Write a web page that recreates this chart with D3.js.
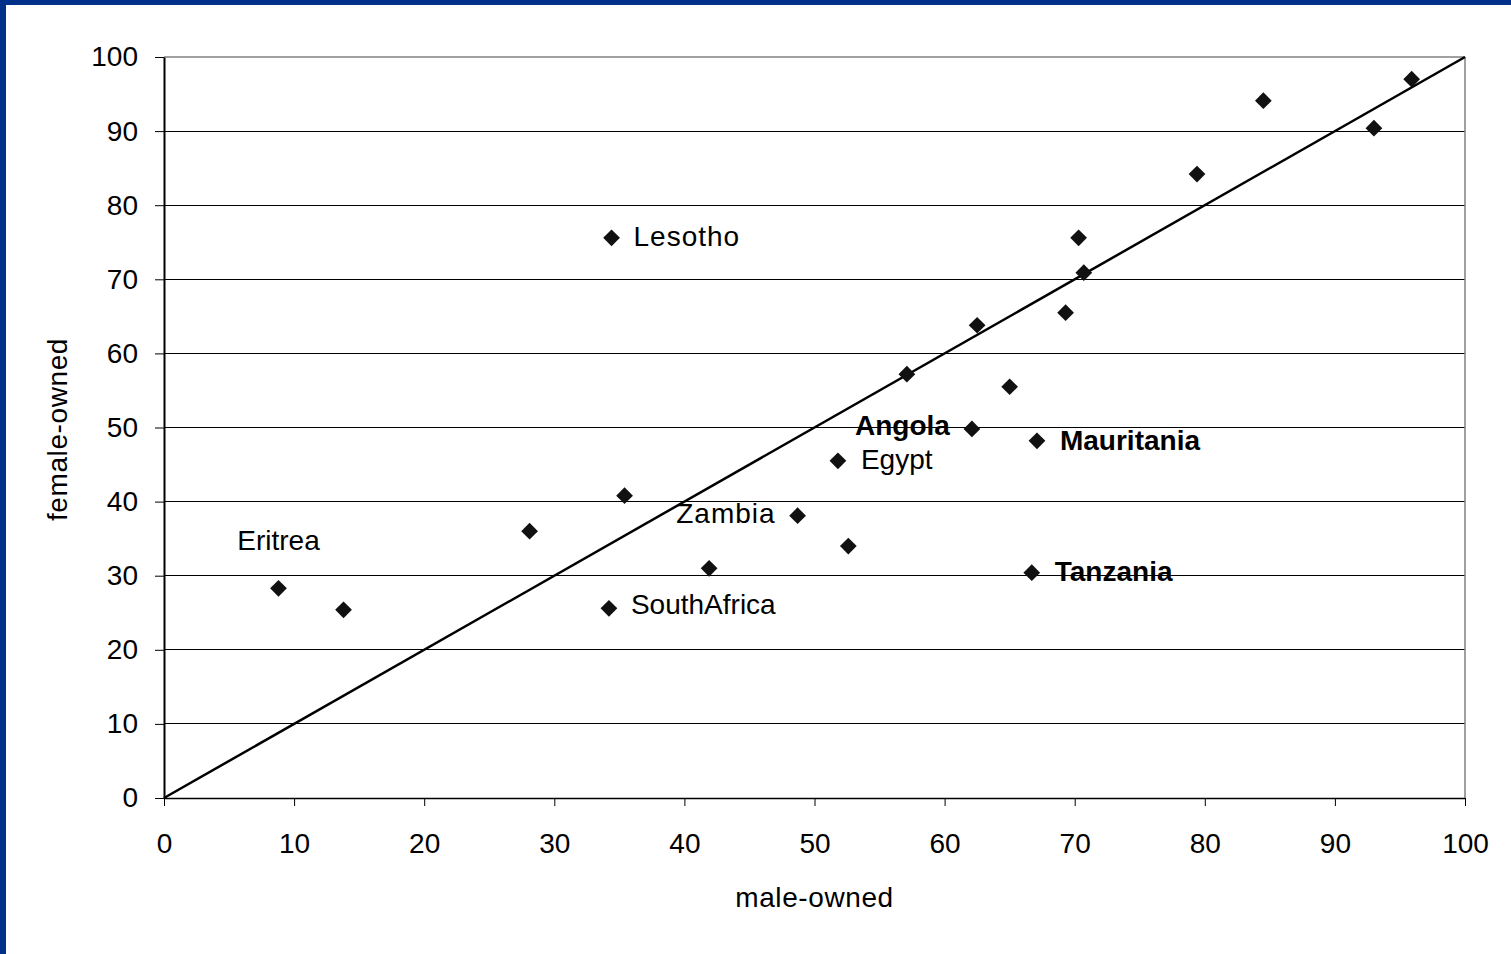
<!DOCTYPE html>
<html><head><meta charset="utf-8">
<script src="https://cdn.jsdelivr.net/npm/d3@7"></script>
<style>
html,body{margin:0;padding:0;background:#fff;}
svg{display:block;}
text{font-family:Arial,"Liberation Sans",sans-serif;fill:#000;}
</style></head>
<body><div id="chart"></div>
<script>
// Data (male-owned %, female-owned %)
const maleOwned   = [8.8, 13.8, 28.1, 34.4, 34.2, 35.4, 41.9, 48.7, 51.8, 52.6, 57.1, 62.1, 62.5, 65.0, 66.7, 67.1, 69.3, 70.3, 70.7, 79.4, 84.5, 93.0, 95.9];
const femaleOwned = [28.3, 25.4, 36.0, 75.6, 25.6, 40.8, 31.0, 38.1, 45.5, 34.0, 57.2, 49.8, 63.8, 55.5, 30.4, 48.2, 65.5, 75.6, 70.9, 84.2, 94.1, 90.4, 97.0];
const countryNames = ["Eritrea", "", "", "Lesotho", "SouthAfrica", "", "", "Zambia", "Egypt", "", "", "Angola", "", "", "Tanzania", "Mauritania", "", "", "", "", "", "", ""];
const boldNames = ["Angola", "Mauritania", "Tanzania"];
const tickValues = [0, 10, 20, 30, 40, 50, 60, 70, 80, 90, 100];
const xTitle = "male-owned";
const yTitle = "female-owned";

const W = 1511, H = 954;
const svg = d3.select("#chart").append("svg").attr("width", W).attr("height", H);

// frame
svg.append("rect").attr("x",0).attr("y",0).attr("width",W).attr("height",H).attr("fill","#fff");
svg.append("rect").attr("x",0).attr("y",0).attr("width",W).attr("height",5).attr("fill","#00308a");
svg.append("rect").attr("x",0).attr("y",0).attr("width",6).attr("height",H).attr("fill","#00308a");

const L = 164, R = 1465, T = 57, B = 798;
const x = d3.scaleLinear().domain([0,100]).range([L,R]);
const y = d3.scaleLinear().domain([0,100]).range([B,T]);

// gridlines
svg.append("g").selectAll("line").data(tickValues.filter(v=>v>0 && v<100)).join("line")
  .attr("x1",L).attr("x2",R).attr("y1",d=>y(d)).attr("y2",d=>y(d))
  .attr("stroke","#000").attr("stroke-width",1).attr("shape-rendering","crispEdges");
// top & right border of plot
svg.append("line").attr("x1",L).attr("x2",R).attr("y1",y(100)).attr("y2",y(100))
  .attr("stroke","#808080").attr("stroke-width",1.5);
svg.append("line").attr("x1",R).attr("x2",R).attr("y1",T).attr("y2",B)
  .attr("stroke","#808080").attr("stroke-width",1.5);

// axes
const xAxis = d3.axisBottom(x).tickValues(tickValues).tickSize(8).tickPadding(27).tickSizeOuter(0);
const gx = svg.append("g").attr("transform",`translate(0,${B})`).call(xAxis);
const yAxis = d3.axisLeft(y).tickValues(tickValues).tickSize(9).tickPadding(17).tickSizeOuter(0);
const gy = svg.append("g").attr("transform",`translate(${L},0)`).call(yAxis);
[gx,gy].forEach(g=>{
  g.select(".domain").attr("stroke","#000").attr("stroke-width",1.5);
  g.selectAll(".tick line").attr("stroke","#000").attr("stroke-width",1);
  g.selectAll(".tick text").attr("font-size",28).attr("font-family","Arial, 'Liberation Sans', sans-serif").attr("fill","#000");
});
gy.select(".domain").attr("stroke-width",2);

// diagonal
svg.append("line").attr("x1",x(0)).attr("y1",y(0)).attr("x2",x(100)).attr("y2",y(100))
  .attr("stroke","#000").attr("stroke-width",2.5);

// points
const pts = maleOwned.map((m,i)=>({m, f: femaleOwned[i], name: countryNames[i]}));
const sym = d3.symbol().type(d3.symbolSquare).size(140);
svg.append("g").selectAll("path").data(pts).join("path")
  .attr("d", sym)
  .attr("transform", d=>`translate(${x(d.m)},${y(d.f)}) rotate(45)`)
  .attr("fill","#111");

// labels
const labelPlacement = {
  "Eritrea":     {dx: 0,   dy: -38, anchor: "middle"},
  "Lesotho":     {dx: 22,  dy: 8,   anchor: "start"},
  "SouthAfrica": {dx: 22,  dy: 6,   anchor: "start"},
  "Zambia":      {dx: -22, dy: 7,   anchor: "end"},
  "Egypt":       {dx: 23,  dy: 8,   anchor: "start"},
  "Angola":      {dx: -22, dy: 6,   anchor: "end"},
  "Tanzania":    {dx: 23,  dy: 8,   anchor: "start"},
  "Mauritania":  {dx: 23,  dy: 9,   anchor: "start"}
};
svg.append("g").selectAll("text").data(pts.filter(d=>d.name)).join("text")
  .attr("x", d=>x(d.m)+labelPlacement[d.name].dx)
  .attr("y", d=>y(d.f)+labelPlacement[d.name].dy)
  .attr("text-anchor", d=>labelPlacement[d.name].anchor)
  .attr("font-size", 28)
  .attr("letter-spacing", d=>(d.name==="Lesotho"||d.name==="Zambia") ? 1 : 0)
  .attr("font-weight", d=>boldNames.includes(d.name) ? "bold" : "normal")
  .text(d=>d.name);

// axis titles
svg.append("text").attr("x",(L+R)/2).attr("y",907).attr("text-anchor","middle")
  .attr("font-size",28).attr("letter-spacing",0.6).text(xTitle);
svg.append("text").attr("transform",`translate(67,${(T+B)/2+2}) rotate(-90)`).attr("text-anchor","middle")
  .attr("font-size",28).attr("letter-spacing",0.6).text(yTitle);
</script></body></html>
